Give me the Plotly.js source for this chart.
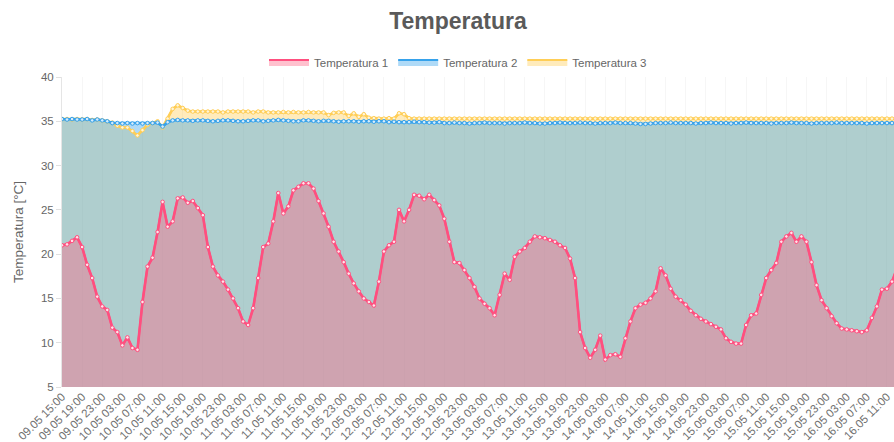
<!DOCTYPE html>
<html>
<head>
<meta charset="utf-8">
<script src="https://cdn.plot.ly/plotly-3.0.1.min.js"></script>
<style>
  html, body { margin: 0; padding: 0; background: #ffffff; }
  #chart { width: 894px; height: 442px; }
</style>
</head>
<body>
<div id="chart"></div>
<script>
// Hourly readings starting 09.05 15:00
const tickLabels = [
  "09.05 15:00","09.05 19:00","09.05 23:00",
  "10.05 03:00","10.05 07:00","10.05 11:00","10.05 15:00","10.05 19:00","10.05 23:00",
  "11.05 03:00","11.05 07:00","11.05 11:00","11.05 15:00","11.05 19:00","11.05 23:00",
  "12.05 03:00","12.05 07:00","12.05 11:00","12.05 15:00","12.05 19:00","12.05 23:00",
  "13.05 03:00","13.05 07:00","13.05 11:00","13.05 15:00","13.05 19:00","13.05 23:00",
  "14.05 03:00","14.05 07:00","14.05 11:00","14.05 15:00","14.05 19:00","14.05 23:00",
  "15.05 03:00","15.05 07:00","15.05 11:00","15.05 15:00","15.05 19:00","15.05 23:00",
  "16.05 03:00","16.05 07:00","16.05 11:00"
];

const temperatura1 = [
  21.0,21.1,21.5,21.9,20.8,18.8,17.3,15.2,14.1,13.7,
  11.7,11.2,9.7,10.6,9.4,9.2,14.6,18.6,19.6,22.5,
  25.9,23.1,23.7,26.3,26.4,25.8,26.0,25.2,24.4,20.8,
  18.6,17.6,16.9,16.0,15.0,13.9,12.4,12.0,13.9,17.3,
  20.8,21.2,23.7,26.9,24.6,25.4,27.2,27.6,28.0,28.0,
  27.4,26.0,24.6,23.1,21.4,20.3,19.1,17.8,16.7,15.8,
  15.0,14.6,14.2,16.9,20.3,21.0,21.4,25.0,23.7,25.0,
  26.7,26.6,26.2,26.7,26.1,25.5,24.0,21.4,19.1,19.0,
  18.2,17.3,16.3,15.0,14.4,13.9,13.1,15.4,17.8,17.1,
  19.7,20.3,20.7,21.4,22.0,21.9,21.8,21.6,21.4,21.0,
  20.7,19.5,17.3,11.2,9.4,8.3,9.2,10.8,8.1,8.6,
  8.7,8.4,10.5,12.4,13.9,14.3,14.5,15.0,15.8,18.4,
  17.6,16.1,15.2,14.8,14.3,13.6,13.1,12.7,12.4,12.1,
  11.8,11.5,10.5,10.1,9.9,9.9,12.0,13.1,13.3,15.4,
  17.3,18.2,19.0,21.4,22.0,22.4,21.4,22.0,21.4,19.1,
  16.5,14.8,13.9,13.0,12.2,11.6,11.5,11.4,11.3,11.2,
  11.4,12.8,14.1,16.0,16.1,16.9,18.4,19.6
];

const temperatura2 = [
  35.25,35.2,35.25,35.2,35.2,35.25,35.1,35.2,35.1,35.0,
  34.8,34.8,34.75,34.8,34.75,34.8,34.75,34.8,34.8,34.85,
  34.4,34.9,35.1,35.15,35.1,35.1,35.05,35.1,35.1,35.05,
  35.0,35.05,35.1,35.1,35.05,35.0,35.0,35.05,35.1,35.1,
  35.0,35.05,35.1,35.15,35.1,35.05,35.0,35.0,35.1,35.1,
  35.05,35.0,35.05,35.05,35.0,34.95,35.0,35.0,35.0,34.95,
  35.0,35.0,34.95,35.0,35.0,34.9,34.95,34.9,34.9,34.9,
  34.95,34.9,34.9,34.85,34.85,34.9,34.8,34.8,34.85,34.8,
  34.8,34.75,34.8,34.8,34.85,34.8,34.8,34.8,34.75,34.8,
  34.8,34.8,34.85,34.8,34.8,34.75,34.75,34.8,34.8,34.85,
  34.8,34.8,34.8,34.85,34.8,34.8,34.75,34.8,34.8,34.8,
  34.85,34.8,34.8,34.8,34.75,34.7,34.7,34.75,34.8,34.8,
  34.8,34.85,34.8,34.8,34.8,34.8,34.75,34.8,34.8,34.85,
  34.8,34.8,34.8,34.75,34.8,34.8,34.85,34.8,34.8,34.8,
  34.8,34.75,34.8,34.8,34.8,34.85,34.8,34.8,34.8,34.75,
  34.8,34.8,34.8,34.8,34.85,34.8,34.8,34.8,34.8,34.8,
  34.75,34.8,34.8,34.8,34.8,34.8,34.8,34.8
];

const temperatura3 = [
  35.25,35.25,35.2,35.25,35.2,35.25,35.15,35.2,35.1,35.0,
  34.85,34.5,34.3,34.3,33.9,33.4,34.0,34.6,34.8,35.0,
  34.3,35.3,36.4,36.8,36.5,36.2,36.1,36.1,36.1,36.1,
  36.1,36.1,36.0,36.1,36.1,36.1,36.1,36.1,36.0,36.1,
  36.1,36.0,36.0,36.0,36.05,36.0,36.05,36.0,36.0,36.05,
  36.0,36.0,36.0,35.7,35.95,36.0,36.0,35.6,35.9,35.5,
  35.8,35.4,35.35,35.3,35.3,35.35,35.3,35.9,35.8,35.35,
  35.3,35.3,35.3,35.3,35.3,35.3,35.3,35.3,35.3,35.3,
  35.3,35.3,35.3,35.3,35.3,35.3,35.3,35.3,35.3,35.3,
  35.3,35.3,35.3,35.3,35.3,35.3,35.3,35.3,35.3,35.3,
  35.3,35.3,35.3,35.3,35.3,35.3,35.3,35.3,35.3,35.3,
  35.3,35.3,35.3,35.3,35.3,35.3,35.3,35.3,35.3,35.3,
  35.3,35.3,35.3,35.3,35.3,35.3,35.3,35.3,35.3,35.3,
  35.3,35.3,35.3,35.3,35.3,35.3,35.3,35.3,35.3,35.3,
  35.3,35.3,35.3,35.3,35.3,35.3,35.3,35.3,35.3,35.3,
  35.3,35.3,35.3,35.3,35.3,35.3,35.3,35.3,35.3,35.3,
  35.3,35.3,35.3,35.3,35.3,35.3,35.3,35.3
];

const seriesNames = ["Temperatura 1", "Temperatura 2", "Temperatura 3"];

const hours = temperatura1.map((_, i) => i);
const tickVals = tickLabels.map((_, i) => i * 4);

const series = [
  {name: seriesNames[0], y: temperatura1, line: "#ff4f7f", fill: "rgba(255,99,132,0.4)", dot: "#ffe3ea", rank: 1},
  {name: seriesNames[1], y: temperatura2, line: "#36a2eb", fill: "rgba(54,162,235,0.4)", dot: "#d6ecfb", rank: 2},
  {name: seriesNames[2], y: temperatura3, line: "#ffce56", fill: "rgba(255,206,86,0.4)", dot: "#fff5d9", rank: 3}
];

const traces = [];
// fills (drawn back to front: 3, 2, 1), carry the legend
[2, 1, 0].forEach(k => {
  const s = series[k];
  traces.push({
    type: "scatter", mode: "lines", x: hours, y: s.y, name: s.name,
    fill: "tozeroy", fillcolor: s.fill,
    line: {color: s.line, width: 2},
    legendgroup: s.name, legendrank: s.rank, showlegend: true,
    hoverinfo: "skip"
  });
});
// lines with points on top of all fills
[2, 1, 0].forEach(k => {
  const s = series[k];
  traces.push({
    type: "scatter", mode: "lines+markers", x: hours, y: s.y, name: s.name,
    line: {color: s.line, width: 2.6},
    marker: {size: 3.6, color: s.dot, line: {color: s.line, width: 1}},
    legendgroup: s.name, showlegend: false
  });
});

const font = "Liberation Sans, Arial, Helvetica, sans-serif";
const layout = {
  width: 894, height: 442,
  margin: {l: 62, r: 0, t: 77, b: 55},
  paper_bgcolor: "#ffffff", plot_bgcolor: "#ffffff",
  font: {family: font, color: "#666666", size: 11.5},
  title: {
    text: "<b>Temperatura</b>",
    font: {family: font, size: 23, color: "#5a5a5a"},
    x: 458 / 894, xref: "container", xanchor: "center",
    y: 1 - 21 / 442, yref: "container", yanchor: "middle"
  },
  showlegend: true,
  legend: {
    orientation: "h", x: (458 - 62) / 832, xanchor: "center",
    y: 1 + 15 / 310, yanchor: "middle",
    font: {family: font, size: 11.5, color: "#666666"},
    itemwidth: 40, bgcolor: "rgba(0,0,0,0)"
  },
  xaxis: {
    range: [0, 165.4],
    tickmode: "array", tickvals: tickVals, ticktext: tickLabels,
    tickangle: -45, tickfont: {size: 11.5, color: "#707070"},
    showgrid: true, gridcolor: "rgba(0,0,0,0.035)",
    ticks: "", zeroline: false, showline: false, fixedrange: true
  },
  yaxis: {
    range: [5, 40], dtick: 5, tick0: 5,
    tickfont: {size: 11.5, color: "#666666"},
    ticks: "outside", ticklen: 5, tickcolor: "rgba(0,0,0,0.12)",
    showgrid: false,
    zeroline: false, showline: true, linecolor: "rgba(0,0,0,0.1)",
    title: {text: "Temperatura [°C]", font: {size: 13.5, color: "#666666"}, standoff: 14},
    automargin: false
  }
};

Plotly.newPlot("chart", traces, layout, {displayModeBar: false, staticPlot: true});
</script>
</body>
</html>
